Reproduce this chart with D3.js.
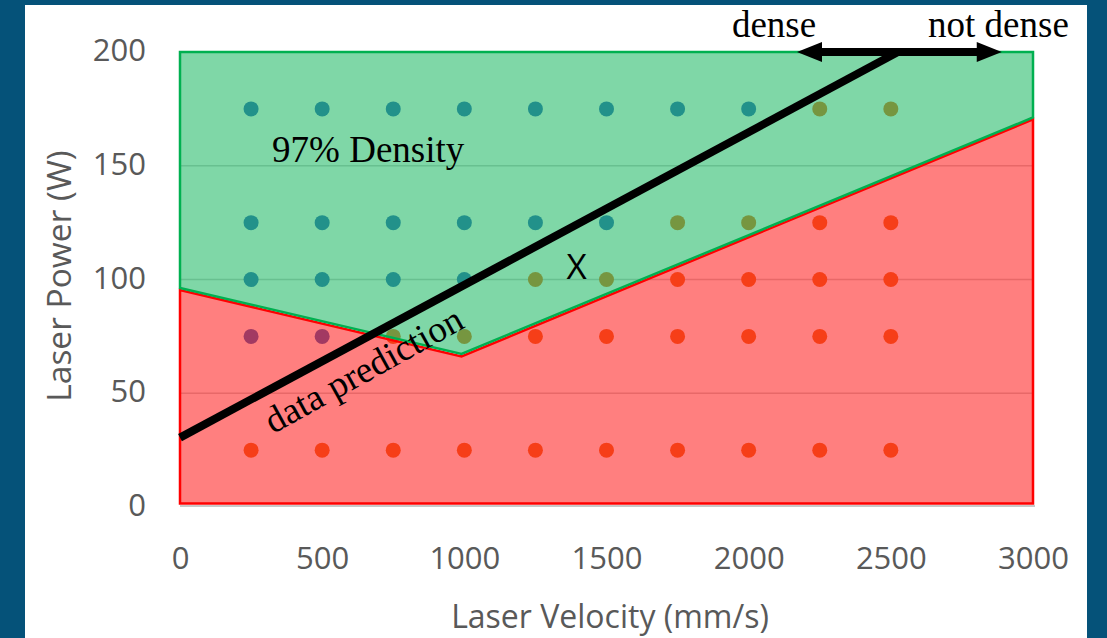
<!DOCTYPE html>
<html><head><meta charset="utf-8">
<script src="https://cdn.jsdelivr.net/npm/d3@7"></script>
<style>html,body{margin:0;padding:0;background:#055279;overflow:hidden}</style>
</head><body>
<script>
// ---- data ----
const xTicks = [0, 500, 1000, 1500, 2000, 2500, 3000];
const yTicks = [0, 50, 100, 150, 200];
const gridValues = [50, 100, 150];

// dense (blue) experiments
const denseVelocity = [250,500,750,1000,1250,1500,1750,2000, 250,500,750,1000,1250,1500, 250,500,750,1000, 250,500];
const densePower    = [175,175,175,175,175,175,175,175, 125,125,125,125,125,125, 100,100,100,100, 75,75];
// not dense (orange) experiments
const porousVelocity = [2250,2500, 1750,2000,2250,2500, 1250,1500,1750,2000,2250,2500,
                        750,1000,1250,1500,1750,2000,2250,2500,
                        250,500,750,1000,1250,1500,1750,2000,2250,2500];
const porousPower    = [175,175, 125,125,125,125, 100,100,100,100,100,100,
                        75,75,75,75,75,75,75,75,
                        25,25,25,25,25,25,25,25,25,25];

// 97% density boundary (green region lies above, red below)
const boundaryVelocity = [0, 990, 3000];
const greenBoundaryPower = [96.3, 67.3, 171.2];
const redBoundaryPower   = [95.4, 66.2, 170.4];
const regionTop = 200, regionBottom = 1.5;

// data prediction line
const predVelocity = [0, 2525];
const predPower = [30.5, 200];
// dense / not dense arrow
const arrowVelocity = [2170, 2890];
const arrowPower = 200;

// ---- layout ----
const W = 1107, H = 638;
const x = d3.scaleLinear().domain([0, 3000]).range([180, 1033]);
const y = d3.scaleLinear().domain([0, 200]).range([507, 52]);

const svg = d3.select("body").append("svg").attr("width", W).attr("height", H);
svg.append("rect").attr("width", W).attr("height", H).attr("fill", "#055279");
svg.append("rect").attr("x", 25).attr("y", 5).attr("width", 1062).attr("height", H - 5).attr("fill", "#ffffff");

const sans = "'Open Sans', 'Noto Sans', sans-serif";
const serif = "'Liberation Serif', 'Times New Roman', serif";

// gridlines
svg.append("g").selectAll("line").data(gridValues).join("line")
  .attr("x1", x(0)).attr("x2", x(3000))
  .attr("y1", d => y(d)).attr("y2", d => y(d))
  .attr("stroke", "#d0d0d0").attr("stroke-width", 1.5);

// points
const dense = denseVelocity.map((v, i) => ({v, p: densePower[i]}));
const porous = porousVelocity.map((v, i) => ({v, p: porousPower[i]}));
svg.append("g").selectAll("circle").data(dense).join("circle")
  .attr("cx", d => x(d.v)).attr("cy", d => y(d.p)).attr("r", 7.5).attr("fill", "#4472c4");
svg.append("g").selectAll("circle").data(porous).join("circle")
  .attr("cx", d => x(d.v)).attr("cy", d => y(d.p)).attr("r", 7.5).attr("fill", "#ed7d31");

// shadow under the region block
svg.append("line").attr("x1", x(0)).attr("x2", x(3000) + 2)
  .attr("y1", y(regionBottom) + 2.5).attr("y2", y(regionBottom) + 2.5)
  .attr("stroke", "#c8c8c8").attr("stroke-width", 2);

// regions
const line = d3.line().x(d => x(d[0])).y(d => y(d[1]));
const redPts = [[0, regionBottom]].concat(boundaryVelocity.map((v, i) => [v, redBoundaryPower[i]])).concat([[3000, regionBottom]]);
svg.append("path").attr("d", line(redPts) + "Z")
  .attr("fill", "rgba(255,0,0,0.5)").attr("stroke", "#ff0000").attr("stroke-width", 2.5).attr("stroke-linejoin", "miter");
const greenPts = [[0, regionTop]].concat(boundaryVelocity.map((v, i) => [v, greenBoundaryPower[i]])).concat([[3000, regionTop]]);
svg.append("path").attr("d", line(greenPts) + "Z")
  .attr("fill", "rgba(0,176,80,0.5)").attr("stroke", "#00b050").attr("stroke-width", 2.5);

// prediction line
svg.append("path").attr("d", line(predVelocity.map((v, i) => [v, predPower[i]])))
  .attr("stroke", "#000").attr("stroke-width", 8).attr("fill", "none");

// double arrow
const ay = y(arrowPower);
const ax1 = x(arrowVelocity[0]), ax2 = x(arrowVelocity[1]);
const hl = 25, hh = 10;
svg.append("line").attr("x1", ax1 + hl - 2).attr("x2", ax2 - hl + 2).attr("y1", ay).attr("y2", ay)
  .attr("stroke", "#000").attr("stroke-width", 8);
svg.append("path").attr("d", `M${ax1},${ay} L${ax1 + hl},${ay - hh} L${ax1 + hl},${ay + hh} Z`).attr("fill", "#000");
svg.append("path").attr("d", `M${ax2},${ay} L${ax2 - hl},${ay - hh} L${ax2 - hl},${ay + hh} Z`).attr("fill", "#000");

// axes
const xAxis = svg.append("g").attr("transform", `translate(0,${y(0)})`)
  .call(d3.axisBottom(x).tickValues(xTicks).tickSize(0).tickPadding(40).tickFormat(d3.format("d")));
const yAxis = svg.append("g").attr("transform", `translate(${x(0)},0)`)
  .call(d3.axisLeft(y).tickValues(yTicks).tickSize(0).tickPadding(34).tickFormat(d3.format("d")));
[xAxis, yAxis].forEach(g => {
  g.select(".domain").remove();
  g.selectAll("text").attr("font-family", sans).attr("font-size", 31).attr("fill", "#595959");
});
yAxis.selectAll("text").attr("dy", "0.28em");

// axis titles
svg.append("text").attr("x", 610).attr("y", 628).attr("text-anchor", "middle")
  .attr("font-family", sans).attr("font-size", 32).attr("fill", "#595959").text("Laser Velocity (mm/s)");
svg.append("text").attr("transform", "translate(71,276) rotate(-90)").attr("text-anchor", "middle")
  .attr("font-family", sans).attr("font-size", 33.5).attr("fill", "#595959").text("Laser Power (W)");

// annotations
svg.append("text").attr("x", x(324)).attr("y", y(151.6))
  .attr("font-family", serif).attr("font-size", 37).attr("fill", "#000").text("97% Density");
svg.append("text").attr("x", x(1395)).attr("y", y(100.2)).attr("text-anchor", "middle")
  .attr("font-family", sans).attr("font-size", 35).attr("fill", "#000").text("X");
svg.append("text").attr("transform", `translate(${x(327)},${y(32)}) rotate(-29)`)
  .attr("font-family", serif).attr("font-size", 37).attr("fill", "#000").text("data prediction");
svg.append("text").attr("x", x(1941)).attr("y", 37)
  .attr("font-family", serif).attr("font-size", 37).attr("fill", "#000").text("dense");
svg.append("text").attr("x", x(2631)).attr("y", 37)
  .attr("font-family", serif).attr("font-size", 37).attr("fill", "#000").text("not dense");
</script>
</body></html>
